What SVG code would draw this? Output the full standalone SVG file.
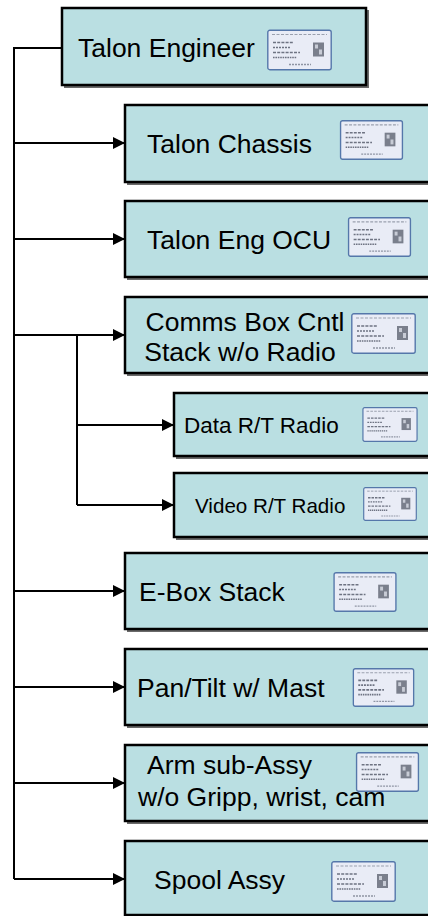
<svg xmlns="http://www.w3.org/2000/svg" xmlns:xlink="http://www.w3.org/1999/xlink" width="428" height="916" viewBox="0 0 428 916">
<style>
.box{fill:#badfe2;stroke:#000;stroke-width:2.5}
.sh{fill:none;stroke:#6a6a6a;stroke-width:2}
.t{font-family:"Liberation Sans",Arial,sans-serif;font-size:26.5px;fill:#000}
.ts{font-family:"Liberation Sans",Arial,sans-serif;font-size:22.5px;fill:#000}
.ln{fill:none;stroke:#000;stroke-width:2}
</style>
<defs>
<marker id="ah" viewBox="0 0 10 10" refX="10" refY="5" markerWidth="7" markerHeight="6" markerUnits="strokeWidth" orient="auto">
<path d="M0,0 L10,5 L0,10 z" fill="#000"/>
</marker>
<symbol id="lbl" viewBox="0 0 65 41">
<rect x="0.8" y="0.8" width="63.4" height="39.4" rx="2" fill="#e9ecf6" stroke="#5577aa" stroke-width="1.4"/>
<g stroke="#9aa0ae" stroke-width="1.2">
<path d="M5,5 H60" stroke-dasharray="3 1.5"/>
<path d="M5,34 H60" stroke="#e9ecf6"/>
</g>
<g stroke="#6e7382" stroke-width="1.6">
<path d="M6,13 H26" stroke-dasharray="3 1.2"/>
<path d="M6,18 H24" stroke-dasharray="2 1"/>
<path d="M6,23 H33" stroke-dasharray="3 1.2"/>
<path d="M6,28 H30" stroke-dasharray="1.6 0.8"/>
</g>
<rect x="46" y="13" width="11" height="14" fill="#7a7f8c"/>
<rect x="48" y="15" width="3" height="4" fill="#c8ccd6"/>
<rect x="52" y="20" width="3" height="5" fill="#c8ccd6"/>
<path d="M22,35 H44" stroke="#8e94a3" stroke-width="1.4" stroke-dasharray="2 1"/>
</symbol>
</defs>

<g id="connectors">
<path class="ln" d="M62,48 H14 V879"/>
<path class="ln" d="M14,143 H125" marker-end="url(#ah)"/>
<path class="ln" d="M14,239 H125" marker-end="url(#ah)"/>
<path class="ln" d="M14,335 H125" marker-end="url(#ah)"/>
<path class="ln" d="M77,335 V505"/>
<path class="ln" d="M77,425 H174" marker-end="url(#ah)"/>
<path class="ln" d="M77,505 H174" marker-end="url(#ah)"/>
<path class="ln" d="M14,591 H125" marker-end="url(#ah)"/>
<path class="ln" d="M14,687 H125" marker-end="url(#ah)"/>
<path class="ln" d="M14,783 H125" marker-end="url(#ah)"/>
<path class="ln" d="M14,879 H125" marker-end="url(#ah)"/>
</g>

<g id="n-engineer">
<path class="sh" d="M64,87 H368 V10"/>
<rect class="box" x="62" y="8" width="304" height="77"/>
<text class="t" x="78" y="57">Talon Engineer</text>
<use xlink:href="#lbl" x="267" y="29" width="65" height="42"/>
</g>

<g id="n-chassis">
<path class="sh" d="M127,184 H440"/>
<rect class="box" x="125" y="105" width="320" height="77"/>
<text class="t" x="147" y="153">Talon Chassis</text>
<use xlink:href="#lbl" x="339" y="120" width="65" height="40"/>
</g>

<g id="n-ocu">
<path class="sh" d="M127,279 H440"/>
<rect class="box" x="125" y="201" width="320" height="76"/>
<text class="t" x="147" y="249">Talon Eng OCU</text>
<use xlink:href="#lbl" x="347" y="217" width="65" height="40"/>
</g>

<g id="n-comms">
<path class="sh" d="M127,375 H440"/>
<rect class="box" x="125" y="297" width="320" height="76"/>
<text class="t" x="245" y="331" text-anchor="middle">Comms Box Cntl</text>
<text class="t" x="240" y="361" text-anchor="middle">Stack w/o Radio</text>
<use xlink:href="#lbl" x="351" y="313" width="65" height="41"/>
</g>

<g id="n-data">
<path class="sh" d="M176,458 H440"/>
<rect class="box" x="174" y="393" width="270" height="63"/>
<text class="ts" x="184" y="433">Data R/T Radio</text>
<use xlink:href="#lbl" x="362" y="407" width="56" height="35"/>
</g>

<g id="n-video">
<path class="sh" d="M176,539 H440"/>
<rect class="box" x="174" y="473" width="270" height="64"/>
<text class="ts" x="195" y="513" style="font-size:20.6px">Video R/T Radio</text>
<use xlink:href="#lbl" x="362" y="487" width="56" height="34"/>
</g>

<g id="n-ebox">
<path class="sh" d="M127,631 H440"/>
<rect class="box" x="125" y="553" width="320" height="76"/>
<text class="t" x="139" y="601">E-Box Stack</text>
<use xlink:href="#lbl" x="333" y="572" width="64" height="40"/>
</g>

<g id="n-pantilt">
<path class="sh" d="M127,727 H440"/>
<rect class="box" x="125" y="649" width="320" height="76"/>
<text class="t" x="137" y="697">Pan/Tilt w/ Mast</text>
<use xlink:href="#lbl" x="352" y="668" width="63" height="39"/>
</g>

<g id="n-arm">
<path class="sh" d="M127,823 H440"/>
<rect class="box" x="125" y="745" width="320" height="76"/>
<text class="t" x="147" y="774">Arm sub-Assy</text>
<text class="t" x="138" y="806">w/o Gripp, wrist, cam</text>
<use xlink:href="#lbl" x="355" y="752" width="65" height="40"/>
</g>

<g id="n-spool">
<path class="sh" d="M127,917 H440"/>
<rect class="box" x="125" y="841" width="320" height="74"/>
<text class="t" x="154" y="889">Spool Assy</text>
<use xlink:href="#lbl" x="331" y="861" width="65" height="41"/>
</g>
</svg>
